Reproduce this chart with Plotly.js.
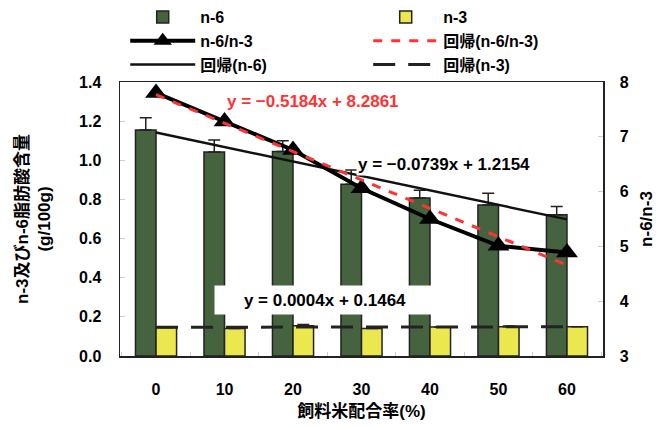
<!DOCTYPE html>
<html>
<head>
<meta charset="utf-8">
<script src="https://cdn.plot.ly/plotly-3.0.1.min.js"></script>
<style>html,body{margin:0;padding:0;background:#fff;}#chart{width:659px;height:427px;}</style>
</head>
<body>
<div id="chart"></div>
<script>
// ---- data ----
const categories = ['0', '10', '20', '30', '40', '50', '60'];
const n6 = [1.155, 1.042, 1.045, 0.878, 0.807, 0.772, 0.722];
const n6Err = [0.062, 0.062, 0.055, 0.072, 0.040, 0.060, 0.042];
const n3 = [0.145, 0.140, 0.155, 0.140, 0.148, 0.150, 0.150];
const n3Err = [0, 0, 0.006, 0, 0, 0.003, 0];
const ratio = [7.80, 7.28, 6.76, 6.06, 5.50, 5.01, 4.89];
// regression coefficients shown on the chart [slope, intercept], x = 1..7
const regRatioCoef = [-0.5184, 8.2861];
const regN6Coef = [-0.0739, 1.2154];
const regN3Coef = [0.0004, 0.1464];
const legendNames = ['n-6', 'n-3', 'n-6/n-3', '回帰(n-6/n-3)', '回帰(n-6)', '回帰(n-3)'];
const eqTexts = ['y = \u22120.5184x + 8.2861', 'y = \u22120.0739x + 1.2154', 'y = 0.0004x + 0.1464'];

const trend = c => categories.map((_, i) => c[0] * (i + 1) + c[1]);
const zeros = categories.map(() => 0);

const FONT = 'Liberation Sans, Arial, "Noto Sans CJK JP", sans-serif';
const baseFont = {family: FONT, size: 16, color: '#000', weight: 'bold'};

const traces = [
  {type: 'bar', name: legendNames[0], x: categories, y: n6,
   marker: {color: '#46633f', line: {color: '#222', width: 1.5}},
   error_y: {type: 'data', array: n6Err, arrayminus: zeros, symmetric: false, color: '#222', thickness: 1.5, width: 6}},
  {type: 'bar', name: legendNames[1], x: categories, y: n3,
   marker: {color: '#ebe84f', line: {color: '#222', width: 1.5}},
   error_y: {type: 'data', array: n3Err, arrayminus: zeros, symmetric: false, color: '#222', thickness: 1.5, width: 6}},
  {type: 'scatter', mode: 'lines+markers', name: legendNames[2], x: categories, y: ratio, yaxis: 'y2',
   line: {color: '#000', width: 4}, marker: {symbol: 'triangle-up', size: 19, color: '#000'}},
  {type: 'scatter', mode: 'lines', name: legendNames[3], x: categories, y: trend(regRatioCoef), yaxis: 'y2',
   line: {color: '#ff3333', width: 3, dash: 'dash'}},
  {type: 'scatter', mode: 'lines', name: legendNames[4], x: categories, y: trend(regN6Coef),
   line: {color: '#111', width: 2.5}},
  {type: 'scatter', mode: 'lines', name: legendNames[5], x: categories, y: trend(regN3Coef),
   line: {color: '#222', width: 3, dash: '22px,13px'}}
];

const layout = {
  width: 659, height: 427,
  margin: {l: 120, r: 56, t: 78, b: 71},
  paper_bgcolor: '#fff', plot_bgcolor: '#fff',
  font: baseFont,
  barmode: 'group', bargap: 0.4, bargroupgap: 0,
  showlegend: true,
  legend: {orientation: 'h', xref: 'container', x: 0.19, xanchor: 'left', yref: 'container', y: 1, yanchor: 'top',
           entrywidth: 163, entrywidthmode: 'pixels', itemwidth: 65,
           font: {family: FONT, size: 16, color: '#000', weight: 'bold'}, bgcolor: 'rgba(0,0,0,0)', traceorder: 'normal'},
  xaxis: {type: 'category', showline: true, mirror: true, linecolor: '#222', linewidth: 1.5,
          ticks: 'inside', tickson: 'boundaries', ticklen: 4, tickcolor: '#ccc',
          ticklabelstandoff: 18, tickfont: baseFont,
          title: {text: '飼料米配合率(%)', font: {family: FONT, size: 17, weight: 'bold'}, standoff: 8}},
  yaxis: {range: [0, 1.4], dtick: 0.2, tickformat: '.1f', showgrid: false, zeroline: false,
          showline: true, linecolor: '#222', linewidth: 1.5, ticks: 'inside', ticklen: 5, tickcolor: '#ccc',
          ticklabelstandoff: 14, tickfont: baseFont,
          title: {text: 'n-3及びn-6脂肪酸含量<br>(g/100g)', font: {family: FONT, size: 17, weight: 'bold'}, standoff: 24}},
  yaxis2: {overlaying: 'y', side: 'right', range: [3, 8], dtick: 1, showgrid: false, zeroline: false,
           showline: true, linecolor: '#222', linewidth: 1.5, ticks: 'inside', ticklen: 5, tickcolor: '#ccc',
           ticklabelstandoff: 12, tickfont: baseFont,
           title: {text: 'n-6/n-3', font: {family: FONT, size: 17, weight: 'bold'}, standoff: 12}},
  annotations: [
    {xref: 'x', yref: 'y', x: 2.29, y: 1.30, text: eqTexts[0], showarrow: false,
     font: {family: FONT, size: 17, color: '#ff3333', weight: 'bold'}},
    {xref: 'x', yref: 'y', x: 4.21, y: 0.979, text: eqTexts[1], showarrow: false, bgcolor: '#fff',
     font: {family: FONT, size: 17, color: '#000', weight: 'bold'}},
    {xref: 'x', yref: 'y', x: 2.47, y: 0.287, text: eqTexts[2], showarrow: false, bgcolor: '#fff',
     width: 214, height: 22, borderpad: 3,
     font: {family: FONT, size: 17, color: '#000', weight: 'bold'}}
  ]
};

Plotly.newPlot('chart', traces, layout, {displayModeBar: false, staticPlot: true});
</script>
</body>
</html>
